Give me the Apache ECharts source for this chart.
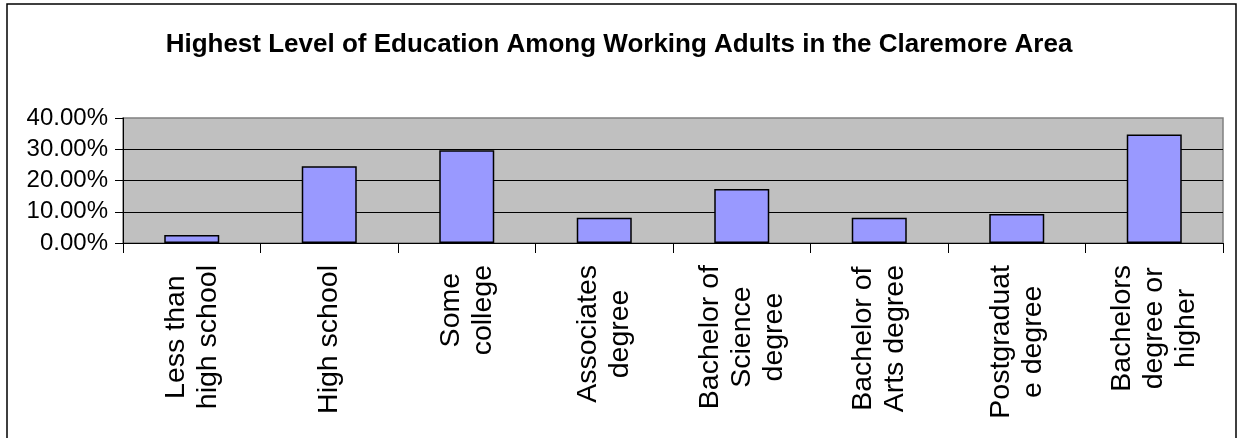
<!DOCTYPE html>
<html>
<head>
<meta charset="utf-8">
<script src="https://cdn.jsdelivr.net/npm/echarts@6/dist/echarts.min.js"></script>
<style>
  html, body { margin: 0; padding: 0; background: #fff; }
  #chart { width: 1238px; height: 438px; }
</style>
</head>
<body>
<div id="chart"></div>
<script>
// Education categories, one entry per wrapped label line
const categories = [
  ['Less than', 'high school'],
  ['High school'],
  ['Some', 'college'],
  ['Associates', 'degree'],
  ['Bachelor of', 'Science', 'degree'],
  ['Bachelor of', 'Arts degree'],
  ['Postgraduat', 'e degree'],
  ['Bachelors', 'degree or', 'higher']
];

// Share of working adults, in percent
const shares = [2.6, 24.6, 29.7, 8.1, 17.3, 8.1, 9.3, 34.7];

// Value axis ticks, in percent
const yTicks = [0, 10, 20, 30, 40];

const chartTitle = 'Highest Level of Education Among Working Adults in the Claremore Area';

const FONT = "'Liberation Sans', Arial, sans-serif";

const chart = echarts.init(document.getElementById('chart'), null, { renderer: 'canvas' });

chart.setOption({
  animation: false,
  backgroundColor: '#ffffff',
  title: {
    text: chartTitle,
    left: 'center',
    top: 27,
    textStyle: { fontFamily: FONT, fontSize: 26, fontWeight: 'bold', color: '#000' }
  },
  graphic: [{
    type: 'rect',
    shape: { x: 7, y: 4, width: 1229, height: 460 },
    style: { fill: 'none', stroke: '#000', lineWidth: 1.5 },
    z: 100
  }],
  grid: {
    left: 123,
    top: 118,
    width: 1100,
    height: 125,
    show: true,
    backgroundColor: '#c0c0c0',
    borderColor: '#808080',
    borderWidth: 1.5
  },
  xAxis: {
    type: 'category',
    data: categories.map(lines => lines.join('\n')),
    axisLine: { show: true, lineStyle: { color: '#000', width: 1 } },
    axisTick: { show: true, length: 10, lineStyle: { color: '#000' } },
    axisLabel: {
      interval: 0,
      rotate: 90,
      margin: 22,
      color: '#000',
      formatter: v => v.split('\n').map(s => '{c|' + s + '}').join('\n'),
      rich: {
        c: { fontFamily: FONT, fontSize: 28.5, lineHeight: 32, align: 'center', color: '#000' }
      }
    }
  },
  yAxis: {
    type: 'value',
    min: yTicks[0],
    max: yTicks[yTicks.length - 1],
    interval: yTicks[1] - yTicks[0],
    axisLine: { show: true, lineStyle: { color: '#000', width: 1 } },
    axisTick: { show: true, length: 8, lineStyle: { color: '#000' } },
    axisLabel: {
      margin: 15,
      fontFamily: FONT,
      fontSize: 24,
      color: '#000',
      padding: [4, 0, 0, 0],
      formatter: v => v.toFixed(2) + '%'
    },
    splitLine: {
      show: true,
      showMinLine: false,
      showMaxLine: false,
      lineStyle: { color: '#000', width: 1 }
    }
  },
  series: [{
    type: 'bar',
    data: shares,
    barCategoryGap: '60%',
    itemStyle: { color: '#9999ff', borderColor: '#000', borderWidth: 1.5 }
  }]
});
</script>
</body>
</html>
